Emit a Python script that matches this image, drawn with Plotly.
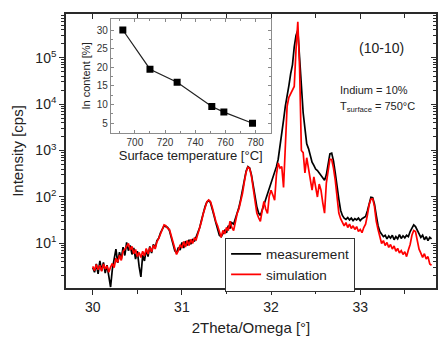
import numpy as np
import plotly.graph_objects as go

# 2Theta/Omega scan, 0.02 deg steps from 30.00 to 33.80
theta_start = 30.00
theta_step = 0.02

measurement = [
    3.0, 2.4, 3.6, 2.2, 4.2, 2.6, 3.9, 2.3, 3.4, 1.9,
    1.15, 2.8, 4.4, 7.5, 3.8, 6.5, 4.6, 8.3, 5.5, 10.5,
    7.0, 9.0, 5.8, 8.0, 4.6, 6.8, 3.2, 1.9, 5.6, 4.2,
    7.4, 5.2, 8.6, 6.2, 9.5, 8.0, 11.5, 13.0, 17, 21,
    24, 23, 22, 19, 14, 10.5, 7.0, 6.2, 8.2, 7.2,
    10.5, 8.0, 11.2, 9.0, 12.0, 9.6, 12.5, 11.0, 14.0, 17,
    22, 32, 46, 62, 78, 84, 76, 58, 40, 28,
    20, 15, 14, 16, 19, 17, 24, 21, 28, 26,
    34, 42, 60, 90, 140, 230, 360, 450, 420, 300,
    180, 100, 62, 45, 40, 52, 68, 90, 115, 160,
    200, 260, 330, 450, 650, 1150, 2200, 4500, 9000, 14000,
    25000, 45000, 70000, 170000, 300000, 390000, 80000, 25000, 6500, 3000,
    1400, 1100, 800, 560, 480, 400, 370, 330, 290, 250,
    230, 300, 560, 850, 880, 600, 330, 160, 90, 52,
    40, 35, 33, 36, 32, 35, 31, 34, 32, 35,
    31, 34, 36, 38, 50, 75, 98, 96, 70, 40,
    24, 18, 16, 14, 15, 12.5, 14.5, 13, 15, 12,
    14, 12.5, 15.5, 12.8, 14.6, 13.2, 15, 14, 18, 22,
    25, 23, 19, 16, 13.5, 15, 12, 14, 11.5, 13.5,
    12.5,
]

simulation = [
    3.2, 2.6, 3.5, 2.7, 3.4, 2.5, 3.6, 2.8, 3.3, 2.4,
    3.1, 3.7, 3.0, 4.8, 3.9, 5.6, 4.3, 6.8, 7.5, 9.0,
    10.0, 7.2, 8.6, 6.0, 7.4, 5.2, 6.4, 5.0, 6.8, 5.4,
    7.8, 5.9, 8.2, 6.6, 9.2, 7.6, 10.8, 12.8, 16, 22,
    25, 24, 21, 20, 15, 11, 7.5, 5.8, 7.0, 9.4,
    8.0, 11.0, 8.4, 11.5, 9.0, 12.2, 10.0, 13.0, 12.0, 16,
    20, 30, 44, 60, 78, 86, 80, 60, 42, 30,
    24, 17, 13.5, 19, 16, 22, 19, 30, 22, 19,
    32, 44, 56, 80, 120, 210, 340, 440, 410, 280,
    150, 80, 45, 36, 30, 50, 80, 55, 44, 105,
    140, 110, 85, 300, 540, 420, 450, 160, 1900, 9000,
    14000, 17000, 19000, 24000, 150000, 590000, 60000, 1000, 900, 330,
    700, 380, 250, 140, 270, 170, 100, 190, 140, 75,
    45, 200, 420, 650, 640, 420, 230, 100, 45, 34,
    29, 24, 28, 22, 26, 21, 24, 20, 23, 18,
    20, 17, 22, 26, 40, 68, 90, 92, 62, 30,
    20, 13, 10, 11.5, 9.0, 10.5, 8.2, 9.5, 7.6, 8.8,
    6.8, 7.8, 6.2, 7.0, 5.8, 6.6, 5.2, 7.2, 9.5, 15,
    19, 18, 12, 7.5, 6.2, 5.0, 6.0, 4.6, 5.2, 3.6,
    3.4,
]

theta = theta_start + theta_step * np.arange(len(measurement))

# Inset: indium content versus surface temperature
surface_temp = [692, 710, 728, 751, 759, 778]
in_content = [30.0, 19.5, 16.0, 9.5, 8.0, 5.0]

font_family = "Liberation Sans, Arial, sans-serif"
axis_color = "#2a2a2a"

fig = go.Figure()

fig.add_trace(go.Scatter(
    x=theta, y=measurement, mode="lines", name="measurement",
    line=dict(color="#000000", width=1.7),
))
fig.add_trace(go.Scatter(
    x=theta, y=simulation, mode="lines", name="simulation",
    line=dict(color="#ff0000", width=1.7),
))

# inset series
fig.add_trace(go.Scatter(
    x=surface_temp, y=in_content, mode="lines+markers",
    xaxis="x2", yaxis="y2", showlegend=False,
    line=dict(color="#222222", width=1.2),
    marker=dict(symbol="square", size=7, color="#000000"),
))

# placeholder trace that carries the top/right tick axes
fig.add_trace(go.Scatter(
    x=[None], y=[None], xaxis="x3", yaxis="y3",
    showlegend=False, hoverinfo="skip",
))

decades = [10, 100, 1000, 10000, 100000]
decade_text = ["10<sup>1</sup>", "10<sup>2</sup>", "10<sup>3</sup>",
               "10<sup>4</sup>", "10<sup>5</sup>"]
log_minor = [m * 10 ** k for k in range(0, 6) for m in range(2, 10)]
x_major = [30, 31, 32, 33]
x_minor = [30.5, 31.5, 32.5, 33.5]
x_range = [29.7, 33.85]
y_range = [0.04, 5.94]

fig.update_layout(
    width=440, height=337,
    margin=dict(l=66, r=2, t=14, b=49),
    paper_bgcolor="white", plot_bgcolor="white",
    font=dict(family=font_family, color="#222222"),
    xaxis=dict(
        domain=[0, 1], range=x_range,
        tickmode="array", tickvals=x_major,
        ticks="outside", ticklen=5, tickwidth=1.3, tickcolor=axis_color,
        minor=dict(tickmode="array", tickvals=x_minor, ticks="outside",
                   ticklen=4, tickwidth=1.1, tickcolor=axis_color),
        showline=True, linecolor=axis_color, linewidth=1.6, mirror=True,
        showgrid=False, zeroline=False,
        tickfont=dict(size=14),
        title=dict(text="2Theta/Omega [°]", font=dict(size=15), standoff=9),
    ),
    yaxis=dict(
        domain=[0, 1], type="log", range=y_range,
        tickmode="array", tickvals=decades, ticktext=decade_text,
        ticks="outside", ticklen=5, tickwidth=1.3, tickcolor=axis_color,
        minor=dict(tickmode="array", tickvals=log_minor, ticks="outside",
                   ticklen=3, tickwidth=1, tickcolor=axis_color),
        showline=True, linecolor=axis_color, linewidth=1.6, mirror=True,
        showgrid=False, zeroline=False,
        tickfont=dict(size=14),
        title=dict(text="Intensity [cps]", font=dict(size=15), standoff=8),
    ),
    xaxis3=dict(
        overlaying="x", side="top", anchor="y", range=x_range,
        tickmode="array", tickvals=x_major,
        ticks="inside", ticklen=5, tickwidth=1.3, tickcolor=axis_color,
        minor=dict(tickmode="array", tickvals=x_minor, ticks="inside",
                   ticklen=4, tickwidth=1.1, tickcolor=axis_color),
        showticklabels=False, showline=False, showgrid=False, zeroline=False,
    ),
    yaxis3=dict(
        overlaying="y", side="right", anchor="x", type="log", range=y_range,
        tickmode="array", tickvals=decades,
        ticks="inside", ticklen=5, tickwidth=1.3, tickcolor=axis_color,
        minor=dict(tickmode="array", tickvals=log_minor, ticks="inside",
                   ticklen=3, tickwidth=1, tickcolor=axis_color),
        showticklabels=False, showline=False, showgrid=False, zeroline=False,
    ),
    xaxis2=dict(
        domain=[0.121, 0.553], anchor="y2", range=[684, 790],
        tickmode="array", tickvals=[700, 720, 740, 760, 780],
        ticks="inside", ticklen=3, tickcolor="#888888",
        minor=dict(tickmode="array", tickvals=[690, 710, 730, 750, 770],
                   ticks="inside", ticklen=2, tickcolor="#888888"),
        showline=True, linecolor="#8c8c8c", linewidth=1, mirror="ticks",
        showgrid=False, zeroline=False,
        tickfont=dict(size=10, color="#333333"),
        title=dict(text="Surface temperature [°C]", font=dict(size=13),
                   standoff=3),
    ),
    yaxis2=dict(
        domain=[0.567, 0.981], anchor="x2", range=[2.5, 32.9],
        tickmode="array", tickvals=[5, 10, 15, 20, 25, 30],
        ticks="inside", ticklen=3, tickcolor="#888888",
        minor=dict(tickmode="array", tickvals=[7.5, 12.5, 17.5, 22.5, 27.5],
                   ticks="inside", ticklen=2, tickcolor="#888888"),
        showline=True, linecolor="#8c8c8c", linewidth=1, mirror="ticks",
        showgrid=False, zeroline=False,
        tickfont=dict(size=10, color="#333333"),
        title=dict(text="In content [%]", font=dict(size=11), standoff=3),
    ),
    legend=dict(
        x=0.43, y=0.184, xanchor="left", yanchor="top",
        bgcolor="white", bordercolor="#333333", borderwidth=1,
        font=dict(size=13.5, color="#222222"),
        itemwidth=30, tracegroupgap=0,
    ),
    annotations=[
        dict(text="(10-10)", x=0.852, y=0.876, xref="paper", yref="paper",
             showarrow=False, xanchor="center", yanchor="middle",
             font=dict(size=14)),
        dict(text="Indium = 10%", x=0.734, y=0.723, xref="paper",
             yref="paper", showarrow=False, xanchor="left",
             yanchor="middle", font=dict(size=11)),
        dict(text="T<sub>surface</sub> = 750°C", x=0.734, y=0.661,
             xref="paper", yref="paper", showarrow=False, xanchor="left",
             yanchor="middle", font=dict(size=11)),
    ],
)

fig.write_html("out.html")
